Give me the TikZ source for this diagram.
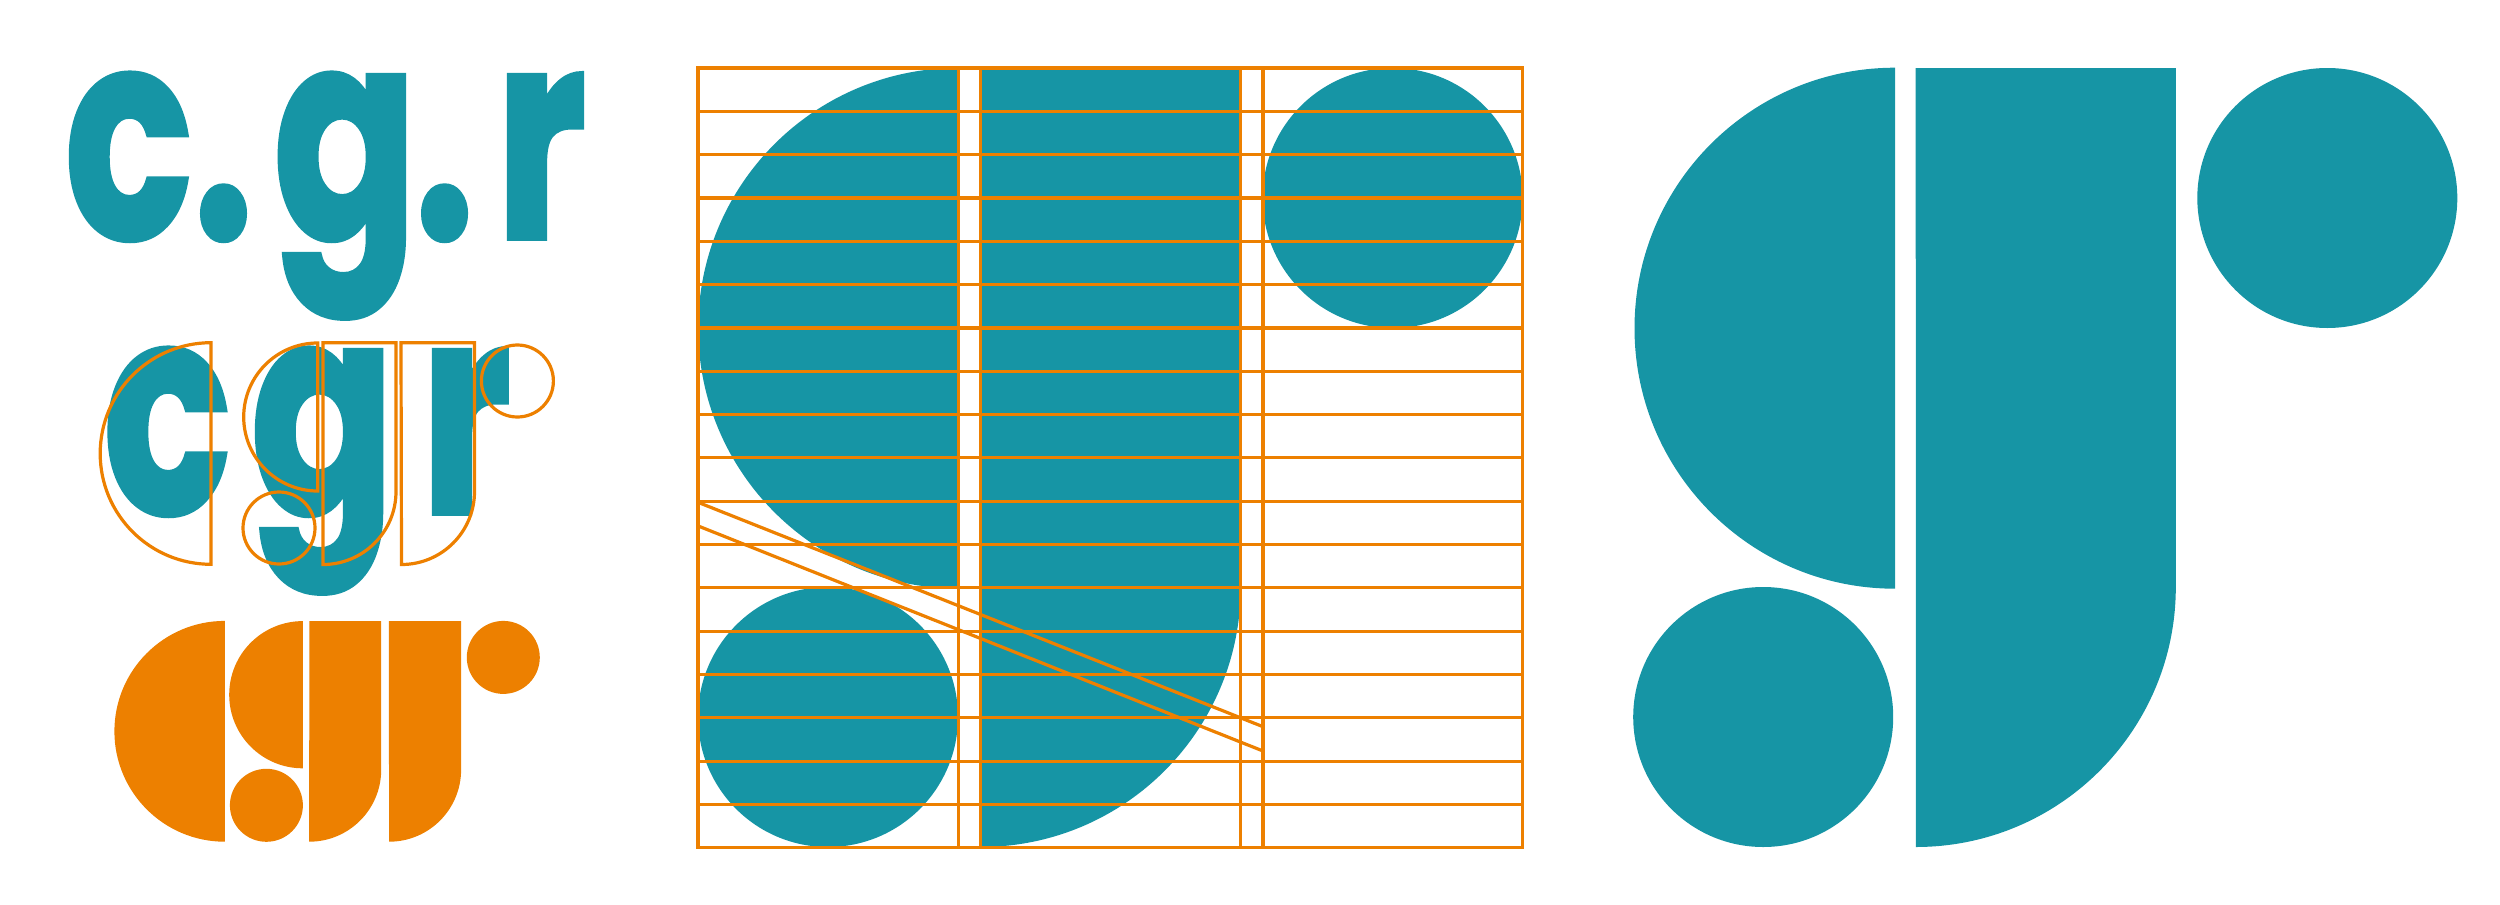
\documentclass[tikz,border=0pt]{standalone}
\usepackage{fontspec}
\newfontfamily\logofont[BoldFeatures={FakeBold=2}]{Poppins}
\definecolor{cgrteal}{RGB}{22,149,165}
\definecolor{cgrorange}{RGB}{237,128,0}
% half disc: flat side x, centre y, radius
\newcommand{\halfdisc}[3]{(#1,#2-#3) arc[start angle=-90,end angle=-270,radius=#3] -- cycle}
% bar: left, right, top, bottom, corner radius
\newcommand{\barshape}[5]{(#1,#3) -- (#2,#3) -- (#2,#4-#5) arc[start angle=0,end angle=90,radius=#5] -- cycle}
\tikzset{
  fillteal/.style={fill=cgrteal,draw=none},
  fillorange/.style={fill=cgrorange,draw=none},
  guide/.style={draw=cgrorange,line width=3.2bp,fill=none,line join=miter},
  logotext/.style={text=cgrteal,inner sep=0pt,outer sep=0pt,anchor=base west,font=\logofont\bfseries\fontsize{292}{340}\selectfont}
}
\newcommand{\glyphs}[1]{\scalebox{0.725}[1]{#1}}
\begin{document}
\begin{tikzpicture}[x=1bp,y=-1bp]
\useasboundingbox (0,0) rectangle (2500,904);
% --- word marks
\node[logotext] (wordA) at (65,238) {\glyphs{c\kern1.5bp.\kern28.7bp g\kern-3.5bp.\kern30.2bp r}};
\node[logotext] (wordB) at (103.6,513) {\glyphs{c\kern27.6bp g\kern36.6bp r}};
% --- outlines over second word mark
\draw[guide] \halfdisc{211}{453.5}{110.8};
\draw[guide] \halfdisc{317.7}{417}{74};
\draw[guide] (279,528) circle[radius=36];
\draw[guide] \barshape{323}{396}{342.7}{564.5}{73};
\draw[guide] \barshape{401}{474.5}{342.7}{564.5}{73};
\draw[guide] (517.4,381) circle[radius=36];
% --- orange construction
\fill[fillorange] \halfdisc{224.8}{731.3}{110.4};
\fill[fillorange] \halfdisc{302.8}{694.7}{73.6};
\fill[fillorange] (266.4,805.3) circle[radius=36.5];
\fill[fillorange] \barshape{309.3}{381.2}{621}{841.7}{72};
\fill[fillorange] \barshape{388.8}{461.1}{621}{841.7}{72};
\fill[fillorange] (503.3,657.4) circle[radius=36.5];
% --- grid panel
\fill[fillteal] \halfdisc{958.5}{328.2}{260.3};
\fill[fillteal] \barshape{980.3}{1240.7}{68}{847}{260};
\fill[fillteal] (1392.6,198) circle[radius=130];
\fill[fillteal] (828,717) circle[radius=130];
\foreach \i in {0,...,18}{
  \draw[guide] (698,68+\i*43.32) -- (1522.3,68+\i*43.32);
}
\foreach \vx in {698,958.5,980.3,1240.7,1263,1522.3}{
  \draw[guide] (\vx,66.4) -- (\vx,849.4);
}
\coordinate (diagAs) at (699,502.7);
\coordinate (diagAe) at (1263,726.7);
\coordinate (diagBs) at (699,526.3);
\coordinate (diagBe) at (1263,751);
\draw[guide] (diagAs) -- (diagAe);
\draw[guide] (diagBs) -- (diagBe);
% --- final mark
\fill[fillteal] \halfdisc{1895}{328.2}{260.5};
\fill[fillteal] \barshape{1915.7}{2175.8}{68}{847}{260};
\fill[fillteal] (2327.3,198) circle[radius=130];
\fill[fillteal] (1763.2,717) circle[radius=130];
\end{tikzpicture}
\end{document}
